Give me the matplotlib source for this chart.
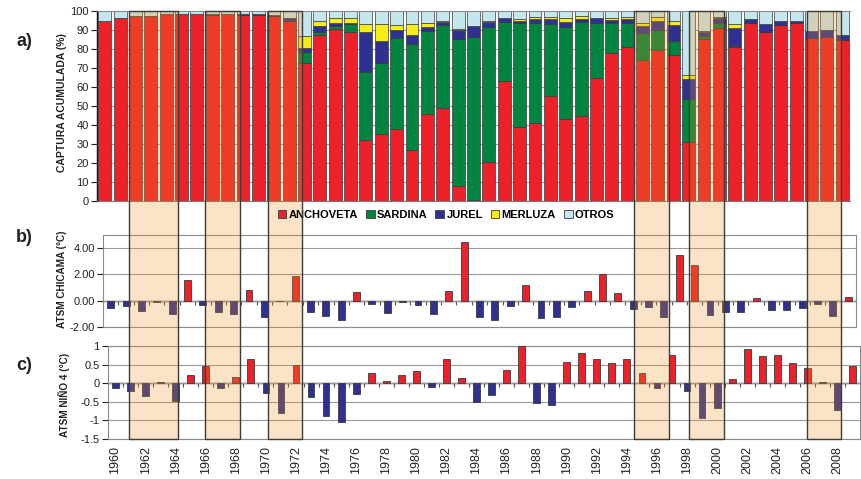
import numpy as np
import matplotlib
matplotlib.use("Agg")
import matplotlib.pyplot as plt
from matplotlib.patches import Rectangle, Patch
import matplotlib.transforms as mtransforms

plt.rcParams['font.family'] = ['Liberation Sans', 'DejaVu Sans']

# ---------------- data ----------------
years_a = list(range(1960, 2009))
anchoveta = [94.6, 96.1, 97.2, 97.2, 98.2, 98.2, 98.2, 97.7, 98.2, 97.7,
             98.0, 97.5, 94.9, 72.4, 87.3, 90.5, 89.1, 32.3, 35.5, 38.0,
             27.1, 45.7, 49.2, 7.9, 0.7, 20.6, 63.3, 39.0, 41.1, 55.2,
             43.4, 45.0, 64.5, 77.7, 81.2, 74.2, 79.4, 76.8, 31.1, 85.1,
             91.2, 81.2, 93.5, 88.8, 92.6, 93.5, 85.6, 86.5, 84.7]
sardina = [0, 0, 0, 0, 0, 0, 0, 0, 0, 0,
           0, 0, 0, 6.2, 1.8, 1.6, 4.0, 35.7, 37.3, 48.0,
           55.4, 43.9, 43.4, 77.2, 85.4, 71.2, 31.1, 54.5, 52.7, 38.0,
           48.0, 49.0, 29.4, 16.2, 12.7, 14.1, 10.5, 7.6, 22.8, 1.8,
           2.3, 0.3, 0, 0.3, 0, 0, 0, 0, 0]
jurel = [0.3, 0.3, 0.3, 0.3, 0.3, 0.3, 0.2, 0.5, 0.3, 0.5,
         0.3, 0.6, 1.2, 2.1, 3.2, 1.4, 0.7, 20.7, 11.4, 4.0,
         4.9, 1.8, 1.4, 4.9, 6.0, 2.5, 1.8, 1.4, 1.8, 2.5,
         3.0, 1.8, 2.3, 1.2, 1.8, 4.0, 4.9, 8.3, 10.2, 2.3,
         2.6, 9.8, 2.1, 3.9, 2.1, 1.2, 4.0, 3.5, 2.6]
merluza = [0, 0, 0, 0, 0, 0, 0, 0, 0, 0,
           0, 0, 0, 6.3, 2.6, 2.6, 2.3, 4.4, 8.8, 2.6,
           5.6, 2.5, 0.9, 0.3, 0.0, 0.3, 0.0, 0.7, 1.0, 1.0,
           1.8, 1.8, 0.0, 1.0, 1.0, 1.6, 2.3, 2.3, 2.1, 0.5,
           0.9, 1.8, 0, 0, 0.2, 0, 0, 0, 0]
otros = [5.1, 3.6, 2.5, 2.5, 1.5, 1.5, 1.6, 1.8, 1.5, 1.8,
         1.7, 1.9, 3.9, 13.0, 5.1, 3.9, 3.9, 6.9, 7.0, 7.4,
         7.0, 6.1, 5.1, 9.7, 7.9, 5.4, 3.8, 4.4, 3.4, 3.3,
         3.8, 2.4, 3.8, 3.9, 3.3, 6.1, 2.9, 5.0, 33.8, 10.3,
         3.0, 6.9, 4.4, 7.0, 5.1, 5.3, 10.4, 10.0, 12.7]

species = ['ANCHOVETA', 'SARDINA', 'JUREL', 'MERLUZA', 'OTROS']
species_colors = ['#ED2129', '#00843F', '#2E3192', '#F7EC13', '#C4E6EF']

years_b = list(range(1960, 2009))
atsm_chicama = [-0.55, -0.38, -0.80, -0.08, -1.00, 1.58, -0.33, -0.83, -1.00, 0.78,
                -1.25, 0.00, 1.90, -0.88, -1.18, -1.45, 0.70, -0.25, -0.93, -0.12,
                -0.30, -1.00, 0.75, 4.45, -1.25, -1.45, -0.43, 1.20, -1.30, -1.25,
                -0.45, 0.75, 2.00, 0.58, -0.62, -0.48, -1.22, 3.45, 2.68, -1.08,
                -0.88, -0.88, 0.18, -0.68, -0.72, -0.58, -0.25, -1.18, 0.25]

years_c = list(range(1960, 2010))
atsm_nino4 = [-0.14, -0.20, -0.34, 0.04, -0.49, 0.22, 0.46, -0.13, 0.16, 0.66,
              -0.25, -0.79, 0.50, -0.36, -0.87, -1.04, -0.30, 0.28, 0.05, 0.22,
              0.32, -0.10, 0.66, 0.13, -0.50, -0.33, 0.35, 0.99, -0.53, -0.59,
              0.57, 0.82, 0.66, 0.53, 0.66, 0.28, -0.13, 0.77, -0.22, -0.93,
              -0.66, 0.10, 0.91, 0.72, 0.77, 0.55, 0.42, 0.03, -0.72, 0.46]

# shaded periods (fractional years, as drawn over the panels)
shaded_periods = [(1960.90, 1964.15), (1965.95, 1968.28), (1970.14, 1972.40),
                  (1994.47, 1996.80), (1998.13, 2000.46), (2005.98, 2008.24)]

POS = '#ED2129'
NEG = '#2E3192'
EDGE = '#3a3a3a'
GRID = '#9a9a9a'

W, H = 862, 479
fig = plt.figure(figsize=(W / 100, H / 100), dpi=100)

def fx(px):
    return px / W

def fy(py):
    return 1 - py / H

# ---------------- panel a ----------------
ax_a = fig.add_axes([fx(97), fy(201), fx(850) - fx(97), fy(11) - fy(201)])
xa = np.arange(len(years_a))
bottom = np.zeros(len(years_a))
series = [anchoveta, sardina, jurel, merluza, otros]
for vals, col in zip(series, species_colors):
    v = np.array(vals, dtype=float)
    ax_a.bar(xa, v, bottom=bottom, width=0.84, color=col, edgecolor=EDGE,
             linewidth=0.5, zorder=2)
    bottom += v
ax_a.set_xlim(-0.5, len(years_a) - 0.5)
ax_a.set_ylim(0, 100)
ax_a.set_yticks(np.arange(0, 101, 10))
ax_a.yaxis.grid(True, color=GRID, linewidth=0.8)
ax_a.set_axisbelow(True)
ax_a.set_xticks([])
ax_a.tick_params(axis='y', labelsize=8, length=4, width=0.8, pad=2, colors='#222222')
ax_a.spines['left'].set_color('#111111')
ax_a.spines['left'].set_linewidth(1.0)
ax_a.spines['bottom'].set_color('#777777')
ax_a.spines['top'].set_color('#888888')
ax_a.spines['right'].set_visible(False)

# ---------------- panel b ----------------
ax_b = fig.add_axes([fx(103), fy(327), fx(856) - fx(103), fy(235) - fy(327)])
xb = np.arange(len(years_b))
vb = np.array(atsm_chicama)
ax_b.bar(xb, vb, width=0.45, color=[POS if v >= 0 else NEG for v in vb],
         edgecolor=EDGE, linewidth=0.6, zorder=3)
ax_b.set_xlim(-0.5, len(years_b) - 0.5)
ax_b.set_ylim(-2, 5)
ax_b.set_yticks([-2, 0, 2, 4])
ax_b.set_yticklabels(['-2.00', '0.00', '2.00', '4.00'])
ax_b.yaxis.grid(True, color=GRID, linewidth=0.8)
ax_b.set_axisbelow(True)
ax_b.set_xticks([])
ax_b.tick_params(axis='y', labelsize=8, length=4, width=0.8, pad=2, colors='#222222')
for s in ax_b.spines.values():
    s.set_color('#8a8a8a')
    s.set_linewidth(0.8)
zb = ax_b.secondary_xaxis(0, transform=ax_b.transData)
zb.set_xticks(np.arange(len(years_b) - 1) + 0.5)
zb.set_xticklabels([])
zb.tick_params(axis='x', length=3, width=0.8, color='#555555')
zb.spines['bottom'].set_color('#333333')
zb.spines['bottom'].set_linewidth(1.0)

# ---------------- panel c ----------------
ax_c = fig.add_axes([fx(108), fy(439), fx(860) - fx(108), fy(346) - fy(439)])
xc = np.arange(len(years_c))
vc = np.array(atsm_nino4)
ax_c.bar(xc, vc, width=0.45, color=[POS if v >= 0 else NEG for v in vc],
         edgecolor=EDGE, linewidth=0.6, zorder=3)
ax_c.set_xlim(-0.5, len(years_c) - 0.5)
ax_c.set_ylim(-1.5, 1)
ax_c.set_yticks([-1.5, -1, -0.5, 0, 0.5, 1])
ax_c.set_yticklabels(['-1.5', '-1', '-0.5', '0', '0.5', '1'])
ax_c.yaxis.grid(True, color=GRID, linewidth=0.8)
ax_c.set_axisbelow(True)
ax_c.set_xticks(xc[::2])
ax_c.set_xticklabels([str(y) for y in years_c[::2]], rotation=90)
ax_c.tick_params(axis='x', labelsize=9, length=0, pad=5, colors='#222222')
ax_c.tick_params(axis='y', labelsize=8, length=4, width=0.8, pad=2, colors='#222222')
for s in ax_c.spines.values():
    s.set_color('#8a8a8a')
    s.set_linewidth(0.8)
zc = ax_c.secondary_xaxis(0, transform=ax_c.transData)
zc.set_xticks(np.arange(len(years_c) - 1) + 0.5)
zc.set_xticklabels([])
zc.tick_params(axis='x', length=3, width=0.8, color='#555555')
zc.spines['bottom'].set_color('#333333')
zc.spines['bottom'].set_linewidth(1.0)

# ---------------- shaded periods (span all panels) ----------------
trans = mtransforms.blended_transform_factory(ax_c.transData, fig.transFigure)
y0, y1 = fy(439), fy(11)
for a, b in shaded_periods:
    x0 = a - years_c[0]
    x1 = b - years_c[0]
    fig.add_artist(Rectangle((x0, y0), x1 - x0, y1 - y0, transform=trans,
                             facecolor='#F39323', alpha=0.25, edgecolor='none',
                             zorder=5))
    fig.add_artist(Rectangle((x0, y0), x1 - x0, y1 - y0, transform=trans,
                             facecolor='none', edgecolor='#3c3c3c',
                             linewidth=1.0, zorder=6))

# ---------------- legend ----------------
handles = [Patch(facecolor=c, edgecolor=EDGE, linewidth=0.6) for c in species_colors]
fig.legend(handles, species, loc='center', bbox_to_anchor=(fx(446), fy(215)),
           ncol=5, frameon=False, prop={'size': 8, 'weight': 'bold'},
           handlelength=0.8, handleheight=0.8, handletextpad=0.2,
           columnspacing=0.7, borderpad=0)

# ---------------- labels ----------------
lab = dict(rotation=90, ha='center', va='center', fontsize=7.5,
           fontweight='bold', color='#222222')
fig.text(fx(62), fy(103), 'CAPTURA ACUMULADA (%)', **lab)
lab['fontsize'] = 7.2
fig.text(fx(62), fy(279), 'ATSM CHICAMA (°C)', **lab)
fig.text(fx(64), fy(395), 'ATSM NIÑO 4 (°C)', **lab)

let = dict(ha='center', va='center', fontsize=13, fontweight='bold', color='#222222')
fig.text(fx(24), fy(41), 'a)', **let)
fig.text(fx(24), fy(238), 'b)', **let)
fig.text(fx(24), fy(366), 'c)', **let)

fig.savefig('out.png', dpi=100)
